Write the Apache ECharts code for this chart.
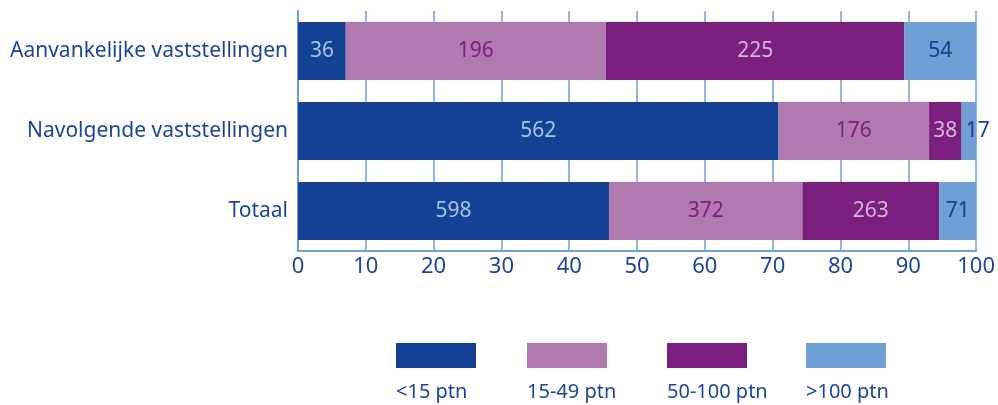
<!DOCTYPE html>
<html>
<head>
<meta charset="utf-8">
<script src="https://cdn.jsdelivr.net/npm/echarts@6/dist/echarts.min.js"></script>
<style>
html,body{margin:0;padding:0;background:#fff;}
#c{width:998px;height:405px;}
</style>
</head>
<body>
<div id="c"></div>
<script>
// Data
const categories = ['Aanvankelijke vaststellingen', 'Navolgende vaststellingen', 'Totaal'];
const seriesNames = ['<15 ptn', '15-49 ptn', '50-100 ptn', '>100 ptn'];
const lt15 = [36, 562, 598];
const p15to49 = [196, 176, 372];
const p50to100 = [225, 38, 263];
const gt100 = [54, 17, 71];
const xTicks = [0, 10, 20, 30, 40, 50, 60, 70, 80, 90, 100];

const counts = [lt15, p15to49, p50to100, gt100];
const colors = ['#144194', '#B07AB0', '#7A1F7E', '#6F9FD4'];
const labelColors = ['#A6C2EA', '#7A1F7E', '#D8B3DB', '#144194'];
const textColor = '#1A4599';
const font = 'Noto Sans';

const totals = categories.map((_, i) => counts.reduce((s, arr) => s + arr[i], 0));

const series = counts.map((arr, si) => ({
  name: seriesNames[si],
  type: 'bar',
  stack: 'total',
  barWidth: 58,
  itemStyle: { color: colors[si] },
  label: {
    show: true,
    position: 'inside',
    color: labelColors[si],
    fontFamily: font,
    fontSize: 21,
    formatter: p => String(arr[p.dataIndex])
  },
  data: arr.map((v, i) => {
    const item = { value: v / totals[i] * 100 };
    if (si === 3 && i === 1) item.label = { offset: [9, 0] };
    return item;
  })
}));

const legendX = [396, 527, 667, 806];
const graphic = [];
seriesNames.forEach((n, i) => {
  graphic.push({ type: 'rect', left: legendX[i], top: 343, shape: { width: 80, height: 25 }, style: { fill: colors[i] } });
  graphic.push({ type: 'text', left: legendX[i], top: 382, style: { text: n, fill: textColor, font: '20px "Noto Sans"' } });
});

const chart = echarts.init(document.getElementById('c'));
chart.setOption({
  animation: false,
  grid: { left: 298, right: 21, top: 11, bottom: 154, containLabel: false },
  xAxis: {
    type: 'value', min: 0, max: 100, interval: 10,
    axisLine: { show: true, lineStyle: { color: '#6F9FD4', width: 2 } },
    axisTick: { show: false },
    splitLine: { show: true, lineStyle: { color: '#6F9FD4', width: 1.5 } },
    axisLabel: { color: textColor, fontFamily: font, fontSize: 22, margin: 5,
      formatter: v => xTicks.includes(v) ? String(v) : '' }
  },
  yAxis: {
    type: 'category', inverse: true, data: categories,
    axisLine: { show: true, lineStyle: { color: '#6F9FD4', width: 2 } },
    axisTick: { show: false },
    axisLabel: { color: textColor, fontFamily: font, fontSize: 21, margin: 10 }
  },
  series: series,
  graphic: graphic
});
</script>
</body>
</html>
